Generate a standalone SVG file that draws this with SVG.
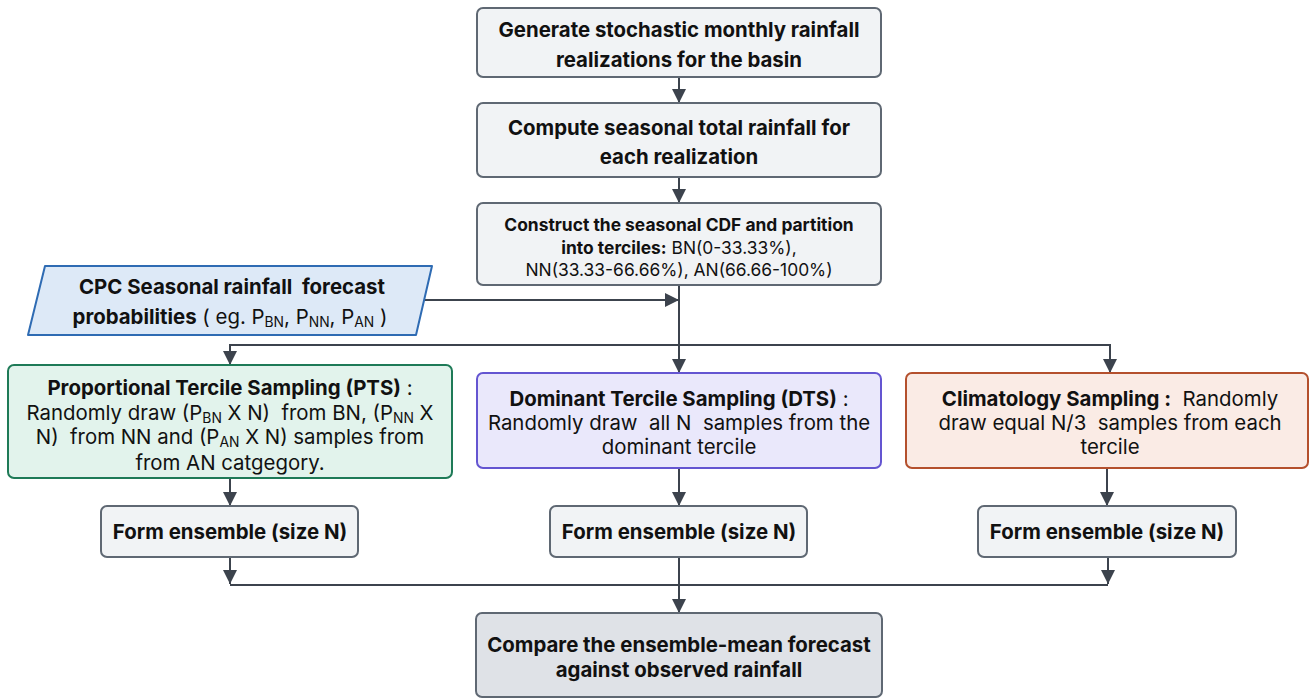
<svg xmlns="http://www.w3.org/2000/svg" width="1310" height="700" viewBox="0 0 1310 700">
<style>
text{font-family:Inter,"Liberation Sans",sans-serif;fill:#111;text-anchor:middle;white-space:pre}
.b{font-weight:700}
.gray{fill:#f1f3f5;stroke:#5f6873;stroke-width:2}
.dark{fill:#dfe2e7;stroke:#5f6873;stroke-width:2}
.ln{stroke:#3c434d;stroke-width:2;fill:none}
.s{font-size:0.68em}
</style>
<defs>
<marker id="ah" viewBox="0 0 10 10" refX="10" refY="5" markerWidth="14" markerHeight="14" markerUnits="userSpaceOnUse" orient="auto">
<path d="M0,0 L10,5 L0,10 z" fill="#3c434d"/>
</marker>
</defs>
<g id="connectors">
<path class="ln" d="M679,77 V103" marker-end="url(#ah)"/>
<path class="ln" d="M679,177 V203" marker-end="url(#ah)"/>
<path class="ln" d="M424,300 H679" marker-end="url(#ah)"/>
<path class="ln" d="M679,285 V373" marker-end="url(#ah)"/>
<path class="ln" d="M679,345 H230 V365" marker-end="url(#ah)"/>
<path class="ln" d="M679,345 H1110 V373" marker-end="url(#ah)"/>
<path class="ln" d="M230,478 V506" marker-end="url(#ah)"/>
<path class="ln" d="M679,468 V506" marker-end="url(#ah)"/>
<path class="ln" d="M1107,468 V506" marker-end="url(#ah)"/>
<path class="ln" d="M230,557 V584" marker-end="url(#ah)"/>
<path class="ln" d="M1108,557 V584" marker-end="url(#ah)"/>
<path class="ln" d="M230,585 H1108"/>
<path class="ln" d="M679,557 V613" marker-end="url(#ah)"/>
</g>
<g id="n1">
<rect class="gray" x="477" y="8" width="404" height="69" rx="6"/>
<text class="b" x="679" y="37" font-size="20.4">Generate stochastic monthly rainfall</text>
<text class="b" x="679" y="67" font-size="20.4">realizations for the basin</text>
</g>
<g id="n2">
<rect class="gray" x="477" y="103" width="404" height="74" rx="6"/>
<text class="b" x="679" y="135" font-size="20.4">Compute seasonal total rainfall for</text>
<text class="b" x="679" y="164" font-size="20.4">each realization</text>
</g>
<g id="n3">
<rect class="gray" x="477" y="203" width="404" height="82" rx="6"/>
<text class="b" x="679" y="231" font-size="17.4">Construct the seasonal CDF and partition</text>
<text x="679" y="254" font-size="17.4"><tspan class="b">into terciles:</tspan> BN(0-33.33%),</text>
<text x="679" y="276" font-size="17.4">NN(33.33-66.66%), AN(66.66-100%)</text>
</g>
<g id="cpc">
<path d="M45,266 H432 L416,335 H28 Z" fill="#dde9f7" stroke="#2e6bb3" stroke-width="2" stroke-linejoin="round"/>
<text class="b" x="232" y="294" font-size="20.4">CPC Seasonal rainfall  forecast</text>
<text x="230" y="324" font-size="20.4"><tspan class="b">probabilities</tspan> ( eg. P<tspan class="s" dy="3">BN</tspan><tspan dy="-3">, P</tspan><tspan class="s" dy="3">NN</tspan><tspan dy="-3">, P</tspan><tspan class="s" dy="3">AN</tspan><tspan dy="-3"> )</tspan></text>
</g>
<g id="pts">
<rect x="8" y="365" width="444" height="113" rx="6" fill="#e2f3ec" stroke="#1e7a57" stroke-width="2"/>
<text x="230" y="395" font-size="20.4"><tspan class="b">Proportional Tercile Sampling (PTS)</tspan> :</text>
<text x="230" y="420" font-size="20.4">Randomly draw (P<tspan class="s" dy="3">BN</tspan><tspan dy="-3"> X N)  from BN, (P</tspan><tspan class="s" dy="3">NN</tspan><tspan dy="-3"> X</tspan></text>
<text x="230" y="444" font-size="20.4">N)  from NN and (P<tspan class="s" dy="3">AN</tspan><tspan dy="-3"> X N) samples from</tspan></text>
<text x="230" y="470" font-size="20.4">from AN catgegory.</text>
</g>
<g id="dts">
<rect x="477" y="373" width="404" height="95" rx="6" fill="#eae8fb" stroke="#6455d1" stroke-width="2"/>
<text x="679" y="406" font-size="20.4"><tspan class="b">Dominant Tercile Sampling (DTS)</tspan> :</text>
<text x="679" y="430" font-size="20.4">Randomly draw  all N  samples from the</text>
<text x="679" y="454" font-size="20.4">dominant tercile</text>
</g>
<g id="clim">
<rect x="906" y="373" width="402" height="95" rx="6" fill="#faebe5" stroke="#b4502d" stroke-width="2"/>
<text x="1110" y="406" font-size="20.4"><tspan class="b">Climatology Sampling :</tspan>  Randomly</text>
<text x="1110" y="430" font-size="20.4">draw equal N/3  samples from each</text>
<text x="1110" y="454" font-size="20.4">tercile</text>
</g>
<g id="e1">
<rect class="gray" x="101" y="506" width="257" height="51" rx="6"/>
<text class="b" x="230" y="539" font-size="20.4">Form ensemble (size N)</text>
</g>
<g id="e2">
<rect class="gray" x="550" y="506" width="257" height="51" rx="6"/>
<text class="b" x="679" y="539" font-size="20.4">Form ensemble (size N)</text>
</g>
<g id="e3">
<rect class="gray" x="978" y="506" width="258" height="51" rx="6"/>
<text class="b" x="1107" y="539" font-size="20.4">Form ensemble (size N)</text>
</g>
<g id="final">
<rect class="dark" x="476" y="613" width="406" height="84" rx="6"/>
<text class="b" x="679" y="652" font-size="20.4">Compare the ensemble-mean forecast</text>
<text class="b" x="679" y="677" font-size="20.4">against observed rainfall</text>
</g>
</svg>
